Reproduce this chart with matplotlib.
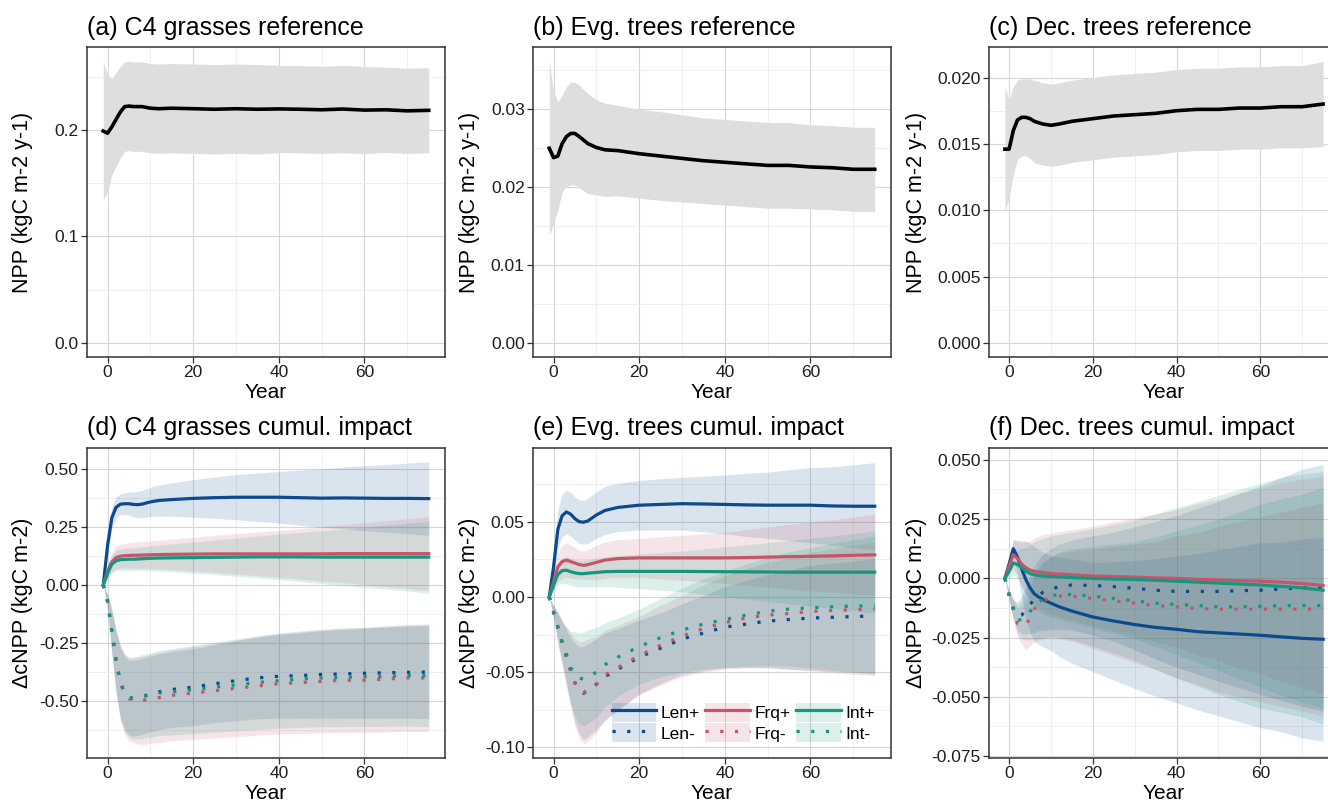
import matplotlib
matplotlib.use("Agg")
import matplotlib.pyplot as plt
from matplotlib.lines import Line2D
from matplotlib.patches import Patch
from matplotlib.ticker import FixedLocator, FormatStrFormatter
import numpy as np

plt.rcParams['font.family'] = ['Liberation Sans', 'DejaVu Sans']
plt.rcParams['axes.unicode_minus'] = False

# ---------------- data ----------------
yr_ref = [-1, 0, 1, 2, 3, 4, 5, 6, 8, 10, 12, 15, 20, 25, 30, 35, 40, 45, 50, 55, 60, 65, 70, 75]

c4_ref = [0.199, 0.197, 0.203, 0.210, 0.217, 0.222, 0.2225, 0.222, 0.222, 0.2205, 0.220, 0.2205,
          0.220, 0.2195, 0.220, 0.2195, 0.2198, 0.2195, 0.219, 0.2197, 0.2187, 0.219, 0.218, 0.2185]
c4_ref_sd = [0.065, 0.055, 0.045, 0.044, 0.043, 0.042, 0.042, 0.042, 0.042, 0.042, 0.042, 0.042,
             0.042, 0.042, 0.042, 0.042, 0.041, 0.041, 0.041, 0.041, 0.041, 0.040, 0.040, 0.040]

evg_ref = [0.0250, 0.0238, 0.0240, 0.0256, 0.0265, 0.0269, 0.0269, 0.0265, 0.0256, 0.0251, 0.0248, 0.0247,
           0.0243, 0.0240, 0.0237, 0.0234, 0.0232, 0.0230, 0.0228, 0.0228, 0.0226, 0.0225, 0.0223, 0.0223]
evg_ref_sd = [0.0112, 0.0085, 0.0070, 0.0062, 0.0064, 0.0066, 0.0066, 0.0066, 0.0064, 0.0061, 0.0060, 0.0058,
              0.0057, 0.0057, 0.0056, 0.0055, 0.0055, 0.0055, 0.0055, 0.0055, 0.0054, 0.0054, 0.0054, 0.0054]

dec_ref = [0.0146, 0.0146, 0.0160, 0.0168, 0.0170, 0.0170, 0.0169, 0.0167, 0.0165, 0.0164, 0.0165, 0.0167,
           0.0169, 0.0171, 0.0172, 0.0173, 0.0175, 0.0176, 0.0176, 0.0177, 0.0177, 0.0178, 0.0178, 0.0180]
dec_ref_sd = [0.0047, 0.0037, 0.0033, 0.0030, 0.0029, 0.0029, 0.0030, 0.0031, 0.0031, 0.0031, 0.0031, 0.0031,
              0.0031, 0.0031, 0.0031, 0.0031, 0.0031, 0.0031, 0.0031, 0.0031, 0.0031, 0.0031, 0.0031, 0.0032]

yr_imp = [-1, 0, 1, 2, 3, 4, 5, 6, 7, 8, 10, 12, 15, 20, 25, 30, 35, 40, 45, 50, 55, 60, 65, 70, 75]

# C4 grasses cumulative impact
c4_len_p = [0, 0.17, 0.29, 0.335, 0.348, 0.350, 0.350, 0.347, 0.346, 0.348, 0.358, 0.364, 0.368,
            0.373, 0.376, 0.378, 0.378, 0.378, 0.376, 0.374, 0.375, 0.374, 0.373, 0.373, 0.372]
c4_len_p_sd = [0, 0.04, 0.045, 0.045, 0.045, 0.047, 0.05, 0.053, 0.056, 0.059, 0.063, 0.067, 0.072,
               0.081, 0.089, 0.097, 0.104, 0.111, 0.119, 0.126, 0.133, 0.14, 0.146, 0.152, 0.158]
c4_frq_p = [0, 0.06, 0.10, 0.118, 0.124, 0.126, 0.127, 0.128, 0.128, 0.129, 0.130, 0.131, 0.132,
            0.133, 0.134, 0.134, 0.134, 0.134, 0.134, 0.134, 0.135, 0.135, 0.135, 0.135, 0.135]
c4_frq_p_sd = [0, 0.03, 0.04, 0.048, 0.052, 0.054, 0.055, 0.056, 0.057, 0.058, 0.06, 0.062, 0.066,
               0.073, 0.08, 0.087, 0.094, 0.101, 0.109, 0.117, 0.125, 0.133, 0.142, 0.15, 0.16]
c4_int_p = [0, 0.05, 0.09, 0.104, 0.109, 0.11, 0.111, 0.111, 0.112, 0.113, 0.115, 0.116, 0.117,
            0.118, 0.119, 0.12, 0.121, 0.121, 0.121, 0.12, 0.12, 0.12, 0.12, 0.12, 0.12]
c4_int_p_sd = [0, 0.025, 0.038, 0.044, 0.046, 0.047, 0.048, 0.049, 0.05, 0.051, 0.054, 0.056, 0.06,
               0.067, 0.074, 0.082, 0.09, 0.098, 0.106, 0.114, 0.122, 0.13, 0.138, 0.146, 0.155]
c4_len_m = [0, -0.07, -0.2, -0.33, -0.42, -0.465, -0.485, -0.488, -0.485, -0.48, -0.47, -0.46, -0.45,
            -0.44, -0.425, -0.412, -0.40, -0.393, -0.39, -0.385, -0.383, -0.38, -0.378, -0.376, -0.375]
c4_len_m_sd = [0, 0.03, 0.09, 0.13, 0.15, 0.158, 0.16, 0.162, 0.163, 0.163, 0.163, 0.163, 0.163,
               0.165, 0.168, 0.172, 0.176, 0.18, 0.184, 0.188, 0.191, 0.194, 0.196, 0.198, 0.2]
c4_frq_m = [0, -0.07, -0.2, -0.33, -0.42, -0.47, -0.49, -0.495, -0.497, -0.498, -0.49, -0.485, -0.475,
            -0.465, -0.455, -0.445, -0.435, -0.425, -0.42, -0.415, -0.41, -0.41, -0.405, -0.40, -0.40]
c4_frq_m_sd = [0, 0.03, 0.1, 0.14, 0.165, 0.175, 0.18, 0.185, 0.188, 0.19, 0.192, 0.194, 0.196,
               0.2, 0.204, 0.208, 0.212, 0.216, 0.219, 0.222, 0.224, 0.226, 0.228, 0.23, 0.232]
c4_int_m = [0, -0.07, -0.2, -0.33, -0.42, -0.465, -0.485, -0.488, -0.485, -0.48, -0.475, -0.465, -0.46,
            -0.45, -0.44, -0.43, -0.42, -0.412, -0.405, -0.40, -0.398, -0.395, -0.393, -0.39, -0.39]
c4_int_m_sd = [0, 0.03, 0.09, 0.13, 0.155, 0.165, 0.17, 0.175, 0.178, 0.18, 0.182, 0.184, 0.186,
               0.19, 0.194, 0.198, 0.202, 0.205, 0.208, 0.21, 0.212, 0.214, 0.216, 0.218, 0.22]

# Evergreen trees cumulative impact
evg_len_p = [0, 0.02, 0.045, 0.054, 0.0565, 0.055, 0.052, 0.050, 0.0497, 0.0505, 0.0545, 0.0575, 0.0595,
             0.061, 0.0615, 0.062, 0.0618, 0.0615, 0.0612, 0.061, 0.061, 0.061, 0.0605, 0.0603, 0.0603]
evg_len_p_sd = [0, 0.008, 0.013, 0.014, 0.0145, 0.0145, 0.0145, 0.0145, 0.0145, 0.015, 0.0155, 0.016, 0.016,
                0.0165, 0.017, 0.0175, 0.0185, 0.0195, 0.021, 0.022, 0.0235, 0.025, 0.026, 0.0275, 0.029]
evg_frq_p = [0, 0.01, 0.02, 0.0235, 0.0245, 0.0235, 0.0225, 0.0215, 0.021, 0.0215, 0.023, 0.0245, 0.0255,
             0.026, 0.026, 0.026, 0.026, 0.026, 0.0262, 0.0265, 0.0268, 0.027, 0.0273, 0.0277, 0.028]
evg_frq_p_sd = [0, 0.005, 0.01, 0.011, 0.0115, 0.011, 0.0105, 0.0095, 0.0095, 0.01, 0.0115, 0.012, 0.0125,
                0.013, 0.014, 0.015, 0.016, 0.017, 0.0185, 0.02, 0.0215, 0.023, 0.024, 0.0255, 0.027]
evg_int_p = [0, 0.008, 0.015, 0.0175, 0.0178, 0.0168, 0.016, 0.0155, 0.0155, 0.0158, 0.0163, 0.0168, 0.017,
             0.017, 0.017, 0.017, 0.0169, 0.0168, 0.0167, 0.0166, 0.0165, 0.0165, 0.0165, 0.0165, 0.0165]
evg_int_p_sd = [0, 0.004, 0.007, 0.0085, 0.009, 0.009, 0.009, 0.009, 0.009, 0.0092, 0.0095, 0.01, 0.0105,
                0.0115, 0.0125, 0.0135, 0.015, 0.0165, 0.018, 0.0195, 0.021, 0.0225, 0.024, 0.0255, 0.0275]
evg_len_m = [0, -0.01, -0.02, -0.03, -0.04, -0.049, -0.057, -0.062, -0.064, -0.062, -0.058, -0.053, -0.048,
             -0.040, -0.034, -0.028, -0.024, -0.020, -0.018, -0.016, -0.015, -0.014, -0.0135, -0.013, -0.0125]
evg_len_m_sd = [0, 0.004, 0.01, 0.014, 0.018, 0.022, 0.026, 0.029, 0.031, 0.031, 0.030, 0.029, 0.027,
                0.0245, 0.0235, 0.0235, 0.025, 0.027, 0.029, 0.031, 0.033, 0.035, 0.036, 0.037, 0.038]
evg_frq_m = [0, -0.01, -0.02, -0.03, -0.04, -0.049, -0.057, -0.062, -0.0635, -0.062, -0.058, -0.052, -0.047,
             -0.039, -0.032, -0.026, -0.021, -0.017, -0.014, -0.012, -0.011, -0.0095, -0.009, -0.0085, -0.008]
evg_frq_m_sd = [0, 0.004, 0.01, 0.015, 0.02, 0.025, 0.029, 0.032, 0.034, 0.034, 0.032, 0.03, 0.028,
                0.026, 0.0265, 0.027, 0.029, 0.031, 0.033, 0.035, 0.037, 0.039, 0.041, 0.043, 0.044]
evg_int_m = [0, -0.01, -0.02, -0.03, -0.038, -0.047, -0.051, -0.054, -0.0545, -0.053, -0.05, -0.045, -0.04,
             -0.033, -0.027, -0.022, -0.018, -0.015, -0.012, -0.0095, -0.008, -0.0072, -0.0065, -0.006, -0.0058]
evg_int_m_sd = [0, 0.004, 0.009, 0.013, 0.018, 0.024, 0.028, 0.03, 0.031, 0.031, 0.03, 0.028, 0.026,
                0.025, 0.026, 0.028, 0.03, 0.032, 0.034, 0.036, 0.038, 0.04, 0.042, 0.044, 0.046]

# Deciduous trees cumulative impact
dec_len_p = [0, 0.006, 0.0125, 0.009, 0.004, -0.0005, -0.004, -0.0065, -0.0078, -0.0088, -0.0105, -0.012, -0.0138,
             -0.0163, -0.018, -0.0195, -0.0207, -0.0215, -0.0225, -0.023, -0.0235, -0.024, -0.0247, -0.0253, -0.0257]
dec_len_p_sd = [0, 0.003, 0.004, 0.007, 0.012, 0.016, 0.019, 0.02, 0.02, 0.02, 0.02, 0.021, 0.022,
                0.023, 0.025, 0.027, 0.029, 0.031, 0.033, 0.035, 0.037, 0.039, 0.040, 0.042, 0.043]
dec_frq_p = [0, 0.005, 0.010, 0.0085, 0.006, 0.0045, 0.0035, 0.003, 0.0027, 0.0025, 0.002, 0.0018, 0.0015,
             0.001, 0.0008, 0.0005, 0.0002, 0.0, -0.0004, -0.0007, -0.001, -0.0012, -0.0016, -0.0022, -0.003]
dec_frq_p_sd = [0, 0.003, 0.006, 0.007, 0.009, 0.011, 0.012, 0.014, 0.015, 0.016, 0.017, 0.018, 0.019,
                0.021, 0.023, 0.025, 0.027, 0.029, 0.032, 0.034, 0.037, 0.039, 0.042, 0.044, 0.046]
dec_int_p = [0, 0.003, 0.0065, 0.0058, 0.0045, 0.003, 0.002, 0.0015, 0.0012, 0.001, 0.0008, 0.0006, 0.0003,
             0.0, -0.0003, -0.0005, -0.0008, -0.0012, -0.0016, -0.002, -0.0024, -0.0028, -0.0034, -0.004, -0.005]
dec_int_p_sd = [0, 0.003, 0.005, 0.006, 0.008, 0.01, 0.012, 0.014, 0.015, 0.016, 0.017, 0.018, 0.019,
                0.021, 0.023, 0.025, 0.028, 0.031, 0.034, 0.037, 0.04, 0.043, 0.046, 0.048, 0.05]
dec_len_m = [0, -0.007, -0.013, -0.016, -0.0155, -0.0135, -0.011, -0.009, -0.007, -0.006, -0.0045, -0.0035, -0.0028,
             -0.003, -0.0035, -0.0042, -0.005, -0.0055, -0.0055, -0.0055, -0.0052, -0.005, -0.0045, -0.004, -0.004]
dec_len_m_sd = [0, 0.002, 0.004, 0.006, 0.008, 0.01, 0.012, 0.014, 0.015, 0.016, 0.017, 0.018, 0.019,
                0.021, 0.023, 0.026, 0.029, 0.032, 0.035, 0.038, 0.041, 0.044, 0.047, 0.05, 0.052]
dec_frq_m = [0, -0.007, -0.013, -0.019, -0.0195, -0.020, -0.0165, -0.013, -0.011, -0.0095, -0.008, -0.0075, -0.0075,
             -0.0085, -0.0095, -0.0105, -0.0115, -0.012, -0.0128, -0.013, -0.013, -0.013, -0.013, -0.013, -0.013]
dec_frq_m_sd = [0, 0.002, 0.004, 0.006, 0.008, 0.01, 0.012, 0.014, 0.015, 0.016, 0.017, 0.018, 0.019,
                0.021, 0.023, 0.025, 0.027, 0.03, 0.032, 0.035, 0.037, 0.039, 0.041, 0.043, 0.045]
dec_int_m = [0, -0.007, -0.0125, -0.0175, -0.0175, -0.016, -0.014, -0.012, -0.0105, -0.009, -0.0075, -0.0068, -0.0068,
             -0.0075, -0.0085, -0.0095, -0.0105, -0.011, -0.0115, -0.012, -0.012, -0.0118, -0.0115, -0.0115, -0.0115]
dec_int_m_sd = [0, 0.002, 0.004, 0.006, 0.008, 0.01, 0.012, 0.014, 0.015, 0.016, 0.017, 0.018, 0.019,
                0.021, 0.023, 0.025, 0.028, 0.031, 0.034, 0.037, 0.04, 0.043, 0.045, 0.047, 0.05]

scenario_labels = ['Len+', 'Len-', 'Frq+', 'Frq-', 'Int+', 'Int-']
col_len = '#0b4a8f'
col_frq = '#c8546b'
col_int = '#16967f'

# ---------------- figure ----------------
fig = plt.figure(figsize=(13.28, 8.05), dpi=100)
W, H = 1328.0, 805.0
col_left = [87, 533, 989]
col_width = [358, 358, 350]
row_bottom = [357, 758]
panel_h = 310

def make_ax(r, c):
    return fig.add_axes([col_left[c] / W, 1 - row_bottom[r] / H, col_width[c] / W, panel_h / H])

def style(ax, title, ylabel, ylim, yticks, yminor, fmt, label_x):
    ax.set_xlim(-4.8, 78.8)
    ax.set_ylim(*ylim)
    ax.xaxis.set_major_locator(FixedLocator([0, 20, 40, 60]))
    ax.xaxis.set_minor_locator(FixedLocator([10, 30, 50, 70]))
    ax.yaxis.set_major_locator(FixedLocator(yticks))
    ax.yaxis.set_minor_locator(FixedLocator(yminor))
    ax.yaxis.set_major_formatter(FormatStrFormatter(fmt))
    ax.grid(which='major', color='#d6d6d6', lw=0.8)
    ax.grid(which='minor', color='#ececec', lw=0.6)
    ax.set_axisbelow(True)
    for s in ax.spines.values():
        s.set_color('#333333')
        s.set_linewidth(1.1)
    ax.tick_params(which='major', length=4, width=0.9, color='#333333',
                   labelsize=12.5, labelcolor='#1e1e1e', pad=2)
    ax.tick_params(which='minor', length=0)
    ax.set_title(title, loc='left', fontsize=18, pad=9)
    ax.set_xlabel('Year', fontsize=15, labelpad=2)
    ax.set_ylabel(ylabel, fontsize=15.5)
    ax.yaxis.set_label_coords(label_x, 0.5)

# --- reference panels ---
ref_panels = [
    ('(a) C4 grasses reference', c4_ref, c4_ref_sd, (-0.0133, 0.278), [0, 0.1, 0.2], [0.05, 0.15, 0.25], '%.1f', -0.151),
    ('(b) Evg. trees reference', evg_ref, evg_ref_sd, (-0.0018, 0.038), [0, 0.01, 0.02, 0.03],
     [0.005, 0.015, 0.025, 0.035], '%.2f', -0.148),
    ('(c) Dec. trees reference', dec_ref, dec_ref_sd, (-0.00106, 0.0223), [0, 0.005, 0.01, 0.015, 0.02],
     [0.0025, 0.0075, 0.0125, 0.0175], '%.3f', -0.177),
]
for c, (title, mean, sd, ylim, yt, ym, fmt, lx) in enumerate(ref_panels):
    ax = make_ax(0, c)
    m = np.array(mean)
    s = np.array(sd)
    ax.fill_between(yr_ref, m - s, m + s, color='#dedede', lw=0)
    ax.plot(yr_ref, m, color='black', lw=2.6, solid_joinstyle='round')
    style(ax, title, 'NPP (kgC m-2 y-1)', ylim, yt, ym, fmt, lx)

# --- impact panels ---
imp_panels = [
    ('(d) C4 grasses cumul. impact',
     [c4_len_p, c4_len_m, c4_frq_p, c4_frq_m, c4_int_p, c4_int_m],
     [c4_len_p_sd, c4_len_m_sd, c4_frq_p_sd, c4_frq_m_sd, c4_int_p_sd, c4_int_m_sd],
     (-0.745, 0.59), [-0.5, -0.25, 0, 0.25, 0.5], [-0.625, -0.375, -0.125, 0.125, 0.375], '%.2f', -0.151),
    ('(e) Evg. trees cumul. impact',
     [evg_len_p, evg_len_m, evg_frq_p, evg_frq_m, evg_int_p, evg_int_m],
     [evg_len_p_sd, evg_len_m_sd, evg_frq_p_sd, evg_frq_m_sd, evg_int_p_sd, evg_int_m_sd],
     (-0.107, 0.099), [-0.1, -0.05, 0, 0.05], [-0.075, -0.025, 0.025, 0.075], '%.2f', -0.148),
    ('(f) Dec. trees cumul. impact',
     [dec_len_p, dec_len_m, dec_frq_p, dec_frq_m, dec_int_p, dec_int_m],
     [dec_len_p_sd, dec_len_m_sd, dec_frq_p_sd, dec_frq_m_sd, dec_int_p_sd, dec_int_m_sd],
     (-0.0758, 0.055), [-0.075, -0.05, -0.025, 0, 0.025, 0.05],
     [-0.0625, -0.0375, -0.0125, 0.0125, 0.0375], '%.3f', -0.177),
]
colors = [col_len, col_len, col_frq, col_frq, col_int, col_int]
styles = ['-', (0, (1, 3.6)), '-', (0, (1, 3.6)), '-', (0, (1, 3.6))]

for c, (title, means, sds, ylim, yt, ym, fmt, lx) in enumerate(imp_panels):
    ax = make_ax(1, c)
    for mean, sd, col in zip(means, sds, colors):
        m = np.array(mean)
        s = np.array(sd)
        ax.fill_between(yr_imp, m - s, m + s, color=col, alpha=0.15, lw=0)
    for mean, col, ls in zip(means, colors, styles):
        ax.plot(yr_imp, mean, color=col, lw=2.3, ls=ls, dash_capstyle='butt')
    style(ax, title, '\u0394cNPP (kgC m-2)', ylim, yt, ym, fmt, lx)
    if c == 1:
        handles = []
        for col, ls in zip(colors, styles):
            handles.append((Patch(facecolor=col, alpha=0.15, lw=0),
                            Line2D([], [], color=col, lw=2.3, ls=ls, dash_capstyle='butt')))
        ax.legend(handles, scenario_labels, ncol=3, loc='lower right', bbox_to_anchor=(1.0, 0.0),
                  frameon=False, fontsize=12.5, handlelength=2.55, handleheight=1.3,
                  columnspacing=0.3, handletextpad=0.3, labelspacing=0.1, borderpad=0.4)

fig.savefig('out.png', dpi=100)
